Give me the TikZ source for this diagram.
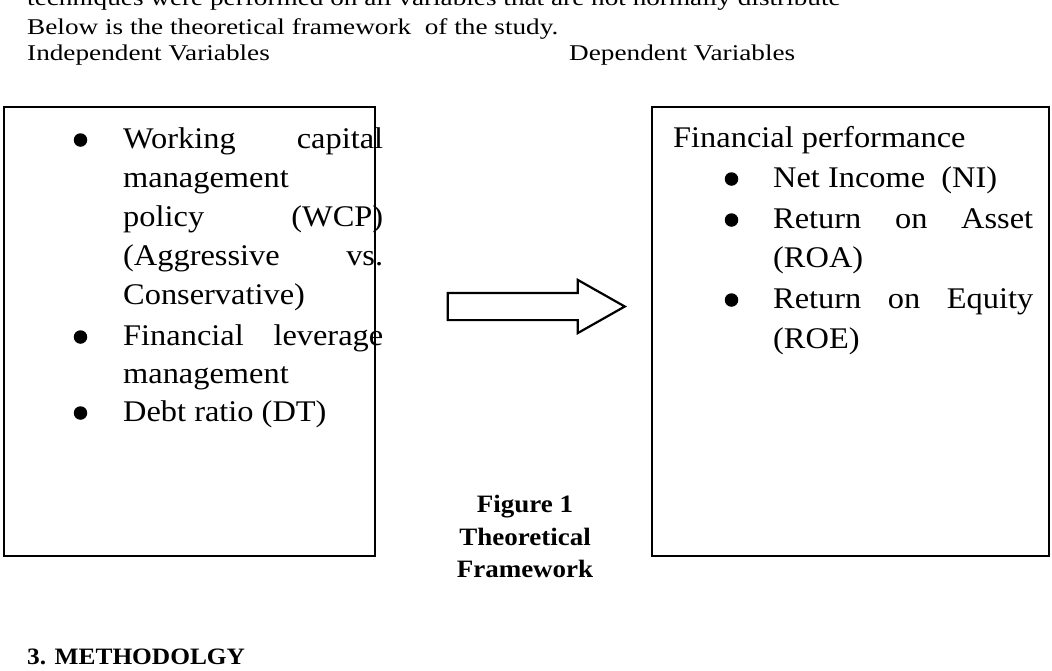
\documentclass[tikz,border=0pt]{standalone}
\usepackage{fontspec}
\setmainfont[FakeStretch=1.08]{Liberation Serif}
\newfontfamily\widefont[FakeStretch=1.21]{Liberation Serif}
\usetikzlibrary{shapes.arrows}

\begin{document}
\begin{tikzpicture}[x=1pt,y=-1pt,
    box/.style={draw,line width=1.8pt,anchor=north west,inner sep=0pt},
    bigarrow/.style={single arrow,draw,line width=2.2pt,inner sep=12.5pt,
      minimum height=177pt,single arrow head extend=13pt,single arrow tip angle=59},
    body/.style={anchor=base west,inner sep=0pt,font=\widefont\fontsize{22.5}{26}\selectfont},
    item/.style={anchor=base west,inner sep=0pt,font=\fontsize{30}{36}\selectfont},
    dot/.style={circle,fill,inner sep=0pt,minimum size=13.5pt},
    caption/.style={anchor=base,inner sep=0pt,font=\fontsize{25}{30}\selectfont\bfseries}]
  \useasboundingbox (0,0) rectangle (1052,670);
  \clip (0,0) rectangle (1052,670);
  % running text above the figure
  \node[body] (prev) at (27,5) {techniques were performed on all variables that are not normally distribute};
  \node[body] (intro) at (27,34) {Below is the theoretical framework\ \ of the study.};
  \node[body] (ivhead) at (27,60) {Independent Variables};
  \node[body] (dvhead) at (569,60) {Dependent Variables};
  % the two boxes and the arrow
  \node[box,minimum width=371pt,minimum height=449pt] (indep) at (3,106) {};
  \node[box,minimum width=397pt,minimum height=449pt] (dep) at (651,106) {};
  \node[bigarrow,anchor=tip] (link) at (627,306.5) {};
  % independent variables
  \foreach \y/\txt in {148/{\makebox[260pt][s]{Working capital}},187/management,
      226/{\makebox[260pt][s]{policy (WCP)}},265/{\makebox[260pt][s]{(Aggressive vs.}},
      304/Conservative),345/{\makebox[260pt][s]{Financial leverage}},383/management,
      421/Debt ratio (DT)}{
    \node[item] (iv\y) at (123,\y) {\txt};}
  \foreach \y in {148,345,421}{
    \node[dot] (ib\y) at (80.5,\y-8) {};}
  % dependent variables
  \node[item] (perf) at (673,147) {Financial performance};
  \foreach \y/\txt in {187/Net Income\ \ (NI),228/{\makebox[260pt][s]{Return on Asset}},
      267/(ROA),308/{\makebox[260pt][s]{Return on Equity}},348/(ROE)}{
    \node[item] (dv\y) at (773,\y) {\txt};}
  \foreach \y in {187,228,308}{
    \node[dot] (db\y) at (731.5,\y-8) {};}
  % caption
  \node[caption] (fig) at (525,512) {Figure 1};
  \node[caption] (figa) at (525,545) {Theoretical};
  \node[caption] (figb) at (525,577) {Framework};
  \node[anchor=base west,inner sep=0pt,font=\fontsize{23.5}{28}\selectfont\bfseries] (sect) at (27,664) {3. METHODOLGY};
\end{tikzpicture}
\end{document}
